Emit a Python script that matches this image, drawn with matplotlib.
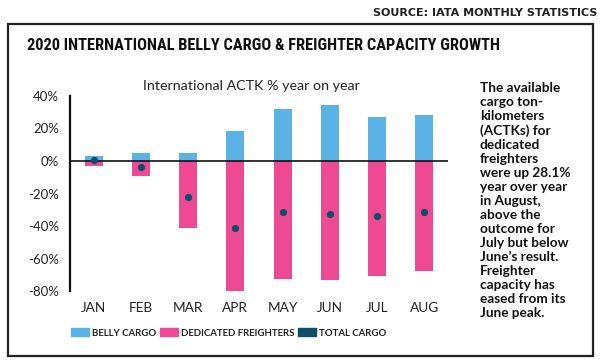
import matplotlib
matplotlib.use("Agg")
import matplotlib.pyplot as plt
from matplotlib.patches import Rectangle, Patch
from matplotlib import font_manager
import numpy as np

months = ["JAN", "FEB", "MAR", "APR", "MAY", "JUN", "JUL", "AUG"]
belly = [3, 5, 5, 18.5, 32, 34, 27, 28]
freighters = [-3.3, -9.2, -41.3, -80.7, -72.6, -73, -70.7, -67.5]
total = [0.3, -3.9, -22.3, -41.3, -31.5, -32.8, -34, -31.5]
yticks = [40, 20, 0, -20, -40, -60, -80]
ytick_labels = ["40%", "20%", "0%", "-20%", "-40%", "-60%", "-80%"]

BLUE = "#5AB3E4"
PINK = "#EE4A94"
TEAL = "#0D4F6B"

weights = {}
for f in font_manager.fontManager.ttflist:
    if f.style == "normal":
        try:
            weights.setdefault(f.name, set()).add(int(f.weight))
        except (TypeError, ValueError):
            pass

def pick(prefs, need=(400, 700)):
    for p in prefs:
        ws = weights.get(p, set())
        if all(w in ws for w in need):
            return p
    return "DejaVu Sans"

COND = pick(["Roboto Condensed", "Barlow Condensed", "Archivo Narrow", "Oswald",
             "Liberation Sans Narrow", "Roboto"], need=(700,))
GEO = pick(["Montserrat", "Lato", "DejaVu Sans"])

fig = plt.figure(figsize=(6, 3.63), dpi=100)
W, H = 600, 363
renderer = fig.canvas.get_renderer()

def fx(px):
    return px / W

def fy(py):
    return 1 - py / H

def fit(t, target, maxsize):
    w = t.get_window_extent(renderer).width
    t.set_fontsize(min(maxsize, t.get_fontsize() * target / w))

# frame
fig.patches.append(Rectangle((fx(8), fy(356)), fx(593) - fx(8), fy(24) - fy(356),
                             transform=fig.transFigure, fill=False,
                             edgecolor="#222222", linewidth=1.6))

src = fig.text(fx(597), fy(13), "SOURCE: IATA MONTHLY STATISTICS", ha="right", va="center",
               fontsize=8, fontweight="bold", color="#222222", family="DejaVu Sans")

title = fig.text(fx(27), fy(46), "2020 INTERNATIONAL BELLY CARGO & FREIGHTER CAPACITY GROWTH",
                 ha="left", va="center", fontsize=13, fontweight="bold",
                 color="#111111", family=COND)
fit(title, 473, 16)

sub = fig.text(fx(251), fy(86), "International ACTK % year on year", ha="center", va="center",
               fontsize=10, color="#222222", family=GEO)
fit(sub, 217, 11)

ax = fig.add_axes([fx(70), fy(291.3), fx(448) - fx(70), fy(95.7) - fy(291.3)])
x = np.arange(len(months))
bw = 0.385
ax.bar(x, belly, width=bw, color=BLUE, zorder=2)
ax.bar(x, freighters, width=bw, color=PINK, zorder=2)
ax.plot(x, total, "o", color=TEAL, markersize=4.2, zorder=4)
ax.axhline(0, color="#111111", linewidth=1.2, zorder=3)

ax.set_xlim(-0.5, 7.5)
ax.set_ylim(-80, 40)
ax.set_yticks(yticks)
ax.set_yticklabels(ytick_labels, family=GEO, fontsize=9.5)
ax.set_xticks(x)
ax.set_xticklabels(months, family=GEO, fontsize=9.8)
ax.tick_params(axis="y", length=0, pad=8, labelcolor="#222222")
ax.tick_params(axis="x", length=0, pad=8, labelcolor="#222222")
ax.set_yticks([40, -80], minor=True)
ax.tick_params(axis="y", which="minor", length=5, width=1.6, color="#111111")
for s in ["top", "right", "bottom"]:
    ax.spines[s].set_visible(False)
ax.spines["left"].set_linewidth(1.6)
ax.spines["left"].set_color("#111111")
ax.set_facecolor("none")

handles = [Patch(color=BLUE), Patch(color=PINK), Patch(color=TEAL)]
labels = ["BELLY CARGO", "DEDICATED FREIGHTERS", "TOTAL CARGO"]
fig.legend(handles, labels, loc="center left", bbox_to_anchor=(fx(62), fy(333)),
           ncol=3, frameon=False, handlelength=1.9, handleheight=0.85,
           handletextpad=0.3, columnspacing=0.4,
           prop={"family": GEO, "size": 6.9, "weight": "bold"},
           labelcolor="#222222")

side_lines = ["The available", "cargo ton-", "kilometers", "(ACTKs) for", "dedicated",
              "freighters", "were up 28.1%", "year over year", "in August,", "above the",
              "outcome for", "July but below", "June\u2019s result.", "Freighter",
              "capacity has", "eased from its", "June peak."]
probe = fig.text(0, 0, "were up 28.1%", fontsize=10, fontweight="bold", family=GEO)
pw = probe.get_window_extent(renderer).width
probe.remove()
side_size = min(11, 10 * 91 / pw)
fig.text(fx(480), fy(82), "\n".join(side_lines), ha="left", va="top", fontsize=side_size,
         fontweight="bold", family=GEO, color="#111111",
         linespacing=1.18 * 10 / side_size)

fig.savefig("out.png", dpi=100)
